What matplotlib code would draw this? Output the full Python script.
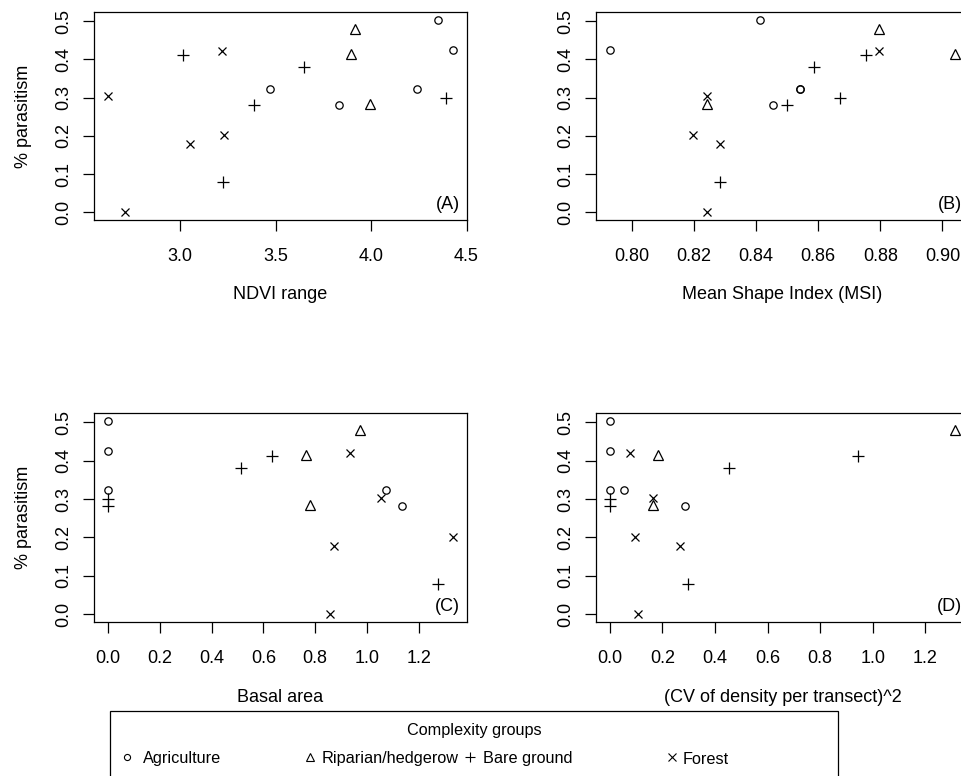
import numpy as np
import matplotlib
matplotlib.use("Agg")
from matplotlib import pyplot as plt
from matplotlib.lines import Line2D
from matplotlib.patches import Rectangle

plt.rcParams['font.family'] = ['Liberation Sans', 'DejaVu Sans']

groups = ["Agriculture", "Riparian/hedgerow", "Bare ground", "Forest"]

# % parasitism per site (same site order in every panel)
agri_par = [0.504, 0.426, 0.323, 0.323, 0.282]
rip_par = [0.480, 0.414, 0.284]
bare_par = [0.411, 0.380, 0.299, 0.281, 0.079]
forest_par = [0.421, 0.304, 0.201, 0.178, 0.000]

# (A) NDVI range
agri_ndvi = [4.352, 4.430, 3.469, 4.242, 3.834]
rip_ndvi = [3.914, 3.893, 3.992]
bare_ndvi = [3.017, 3.647, 4.394, 3.389, 3.223]
forest_ndvi = [3.218, 2.622, 3.229, 3.051, 2.710]

# (B) mean shape index
agri_msi = [0.8412, 0.7929, 0.8540, 0.8540, 0.8455]
rip_msi = [0.8796, 0.9041, 0.8241]
bare_msi = [0.8754, 0.8587, 0.8669, 0.8501, 0.8285]
forest_msi = [0.8796, 0.8241, 0.8198, 0.8285, 0.8241]

# (C) basal area
agri_basal = [0.0, 0.0, 0.0, 1.073, 1.133]
rip_basal = [0.971, 0.763, 0.781]
bare_basal = [0.634, 0.512, 0.0, 0.0, 1.273]
forest_basal = [0.935, 1.055, 1.332, 0.873, 0.855]

# (D) (CV of density per transect)^2
agri_cv = [0.0, 0.0, 0.0, 0.054, 0.285]
rip_cv = [1.313, 0.182, 0.163]
bare_cv = [0.943, 0.452, 0.0, 0.0, 0.299]
forest_cv = [0.076, 0.166, 0.097, 0.268, 0.108]

W, H = 961, 776
fig = plt.figure(figsize=(W / 100, H / 100), dpi=100)

FS = 13
markers = {
    "Agriculture": dict(marker='o', ms=5.3),
    "Riparian/hedgerow": dict(marker='^', ms=7.5),
    "Bare ground": dict(marker='+', ms=8.2),
    "Forest": dict(marker='x', ms=6.2),
}


def rlim(vals):
    # R style axis range: data range padded by 4% each side
    lo, hi = min(vals), max(vals)
    d = (hi - lo) * 0.04
    return lo - d, hi + d


def px_axes(left, top, right, bottom):
    return fig.add_axes([left / W, (H - bottom) / H, (right - left) / W, (bottom - top) / H])


panels = [
    ("(A)", (94, 12, 467, 220), [agri_ndvi, rip_ndvi, bare_ndvi, forest_ndvi],
     "NDVI range", [3.0, 3.5, 4.0, 4.5], "{:.1f}", True),
    ("(B)", (596, 12, 969, 220), [agri_msi, rip_msi, bare_msi, forest_msi],
     "Mean Shape Index (MSI)", [0.80, 0.82, 0.84, 0.86, 0.88, 0.90], "{:.2f}", False),
    ("(C)", (94, 413, 467, 622), [agri_basal, rip_basal, bare_basal, forest_basal],
     "Basal area", [0.0, 0.2, 0.4, 0.6, 0.8, 1.0, 1.2], "{:.1f}", True),
    ("(D)", (596, 413, 969, 622), [agri_cv, rip_cv, bare_cv, forest_cv],
     "(CV of density per transect)^2", [0.0, 0.2, 0.4, 0.6, 0.8, 1.0, 1.2], "{:.1f}", False),
]
ys = [agri_par, rip_par, bare_par, forest_par]
all_y = sum(ys, [])

for tag, box, xs, xlab, xt, fmt, left in panels:
    ax = px_axes(*box)
    for g, x, y in zip(groups, xs, ys):
        ax.plot(x, y, linestyle='none', color='black', mfc='none', mew=0.9, **markers[g])
    ax.set_xlim(*rlim(sum(xs, [])))
    ax.set_ylim(*rlim(all_y))
    ax.set_xticks(xt)
    ax.set_xticklabels([fmt.format(v) for v in xt])
    yt = [0.0, 0.1, 0.2, 0.3, 0.4, 0.5]
    ax.set_yticks(yt)
    ax.set_yticklabels(["{:.1f}".format(v) for v in yt])
    for s in ax.spines.values():
        s.set_linewidth(0.9)
    ax.tick_params(direction='out', length=8, width=0.9, labelsize=FS)
    ax.tick_params(axis='x', pad=12)
    ax.tick_params(axis='y', pad=8, labelrotation=90)
    for lb in ax.get_yticklabels():
        lb.set_va('center')
    ax.set_xlabel(xlab, fontsize=FS)
    ax.xaxis.set_label_coords(0.5, -0.36)
    ax.xaxis.label.set_va('center')
    if left:
        ax.set_ylabel("% parasitism", fontsize=FS)
        ax.yaxis.set_label_coords(-0.188, 0.5)
        ax.yaxis.label.set_va('center')
    ax.text(0.982, 0.035, tag, transform=ax.transAxes, ha='right', va='bottom', fontsize=FS)


# legend, drawn like the R legend box
def fx(px):
    return px / W


def fy(py):
    return (H - py) / H


LFS = 11.7
fig.add_artist(Rectangle((fx(110), fy(800)), fx(838) - fx(110), fy(711) - fy(800),
                         fill=False, lw=0.9, edgecolor='black', transform=fig.transFigure))
fig.text(fx(474), fy(731), "Complexity groups", ha='center', va='center', fontsize=LFS)
leg_marker_x = [127, 310, 470, 672]
leg_text_x = [143, 322, 483, 683]
leg_ms = {"Agriculture": 4.4, "Riparian/hedgerow": 6.0, "Bare ground": 7.2, "Forest": 5.2}
for g, mx, tx in zip(groups, leg_marker_x, leg_text_x):
    m = dict(markers[g])
    m['ms'] = leg_ms[g]
    fig.add_artist(Line2D([fx(mx)], [fy(757)], linestyle='none', color='black', mfc='none',
                          mew=0.8, transform=fig.transFigure, **m))
    fig.text(fx(tx), fy(759), g, ha='left', va='center', fontsize=LFS)

fig.savefig("out.png", dpi=100)
